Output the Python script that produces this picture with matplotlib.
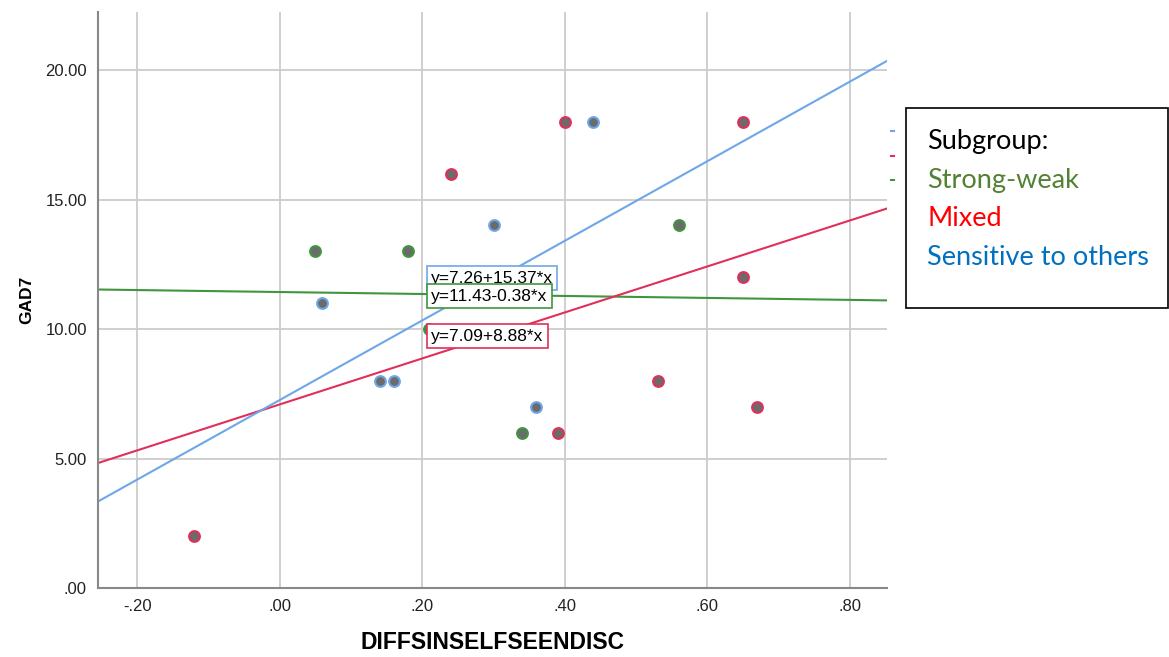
import numpy as np
import matplotlib.pyplot as plt
from matplotlib.lines import Line2D
from matplotlib.ticker import FuncFormatter

# Subgroup data (DIFFSINSELFSEENDISC, GAD7)
strong_x = [0.05, 0.18, 0.56, 0.34, 0.21]
strong_y = [13, 13, 14, 6, 10]
mixed_x = [-0.12, 0.24, 0.40, 0.65, 0.65, 0.53, 0.67, 0.39]
mixed_y = [2, 16, 18, 18, 12, 8, 7, 6]
sens_x = [0.06, 0.14, 0.16, 0.30, 0.36, 0.44]
sens_y = [11, 8, 8, 14, 7, 18]

# fit lines (intercept, slope) as printed on the chart
fit_sens = (7.26, 15.37)
fit_strong = (11.43, -0.38)
fit_mixed = (7.09, 8.88)

x_ticks = [-0.2, 0.0, 0.2, 0.4, 0.6, 0.8]
y_ticks = [0, 5, 10, 15, 20]

c_blue = '#6ea6ea'
c_red = '#e0305a'
c_green = '#3f963f'
c_fill = '#6b6b6b'

plt.rcParams['font.family'] = ['Liberation Sans', 'DejaVu Sans']

fig = plt.figure(figsize=(11.69, 6.57), dpi=100)
ax = fig.add_axes([0.0838, 0.105, 0.675, 0.877])

xmin, xmax = -0.255, 0.852
ax.set_xlim(xmin, xmax)
ax.set_ylim(0, 22.25)

ax.set_xticks(x_ticks)
ax.set_yticks(y_ticks)
ax.xaxis.set_major_formatter(FuncFormatter(lambda v, p: ('%.2f' % v).replace('0.', '.') if v != 0 else '.00'))
ax.yaxis.set_major_formatter(FuncFormatter(lambda v, p: ('%.2f' % v) if v != 0 else '.00'))
ax.tick_params(length=0, labelsize=12, pad=8, colors='#222222')
ax.grid(True, color='#cccccc', linewidth=1.3)
ax.set_axisbelow(True)
for s in ['top', 'right']:
    ax.spines[s].set_visible(False)
for s in ['left', 'bottom']:
    ax.spines[s].set_color('#888888')
    ax.spines[s].set_linewidth(1.5)

xs = np.array([xmin, xmax])
for (b0, b1), col in [(fit_strong, c_green), (fit_mixed, c_red), (fit_sens, c_blue)]:
    ax.plot(xs, b0 + b1 * xs, color=col, linewidth=1.5, zorder=2)

for px, py, col in [(strong_x, strong_y, c_green), (mixed_x, mixed_y, c_red), (sens_x, sens_y, c_blue)]:
    ax.scatter(px, py, s=60, color=c_fill, edgecolors=col, linewidths=1.5, zorder=3)

# fit labels
lab_x = 0.212
for (b0, b1), col, ly in [(fit_sens, c_blue, 11.97), (fit_strong, c_green, 11.27), (fit_mixed, c_red, 9.73)]:
    sign = '+' if b1 >= 0 else '-'
    ax.text(lab_x, ly, 'y=%.2f%s%.2f*x' % (b0, sign, abs(b1)), fontsize=12.5, va='center', ha='left',
            bbox=dict(boxstyle='square,pad=0.25', facecolor='white', edgecolor=col, linewidth=1.2), zorder=4)

ax.set_xlabel('DIFFSINSELFSEENDISC', fontsize=16.5, fontweight='bold', labelpad=12)
ax.set_ylabel('GAD7', fontsize=12.5, fontweight='bold', labelpad=8)

# remnants of the clipped legend at the right edge
for yy, col in [(131, c_blue), (156, c_red), (180, c_green)]:
    fig.add_artist(Line2D([891 / 1169, 894 / 1169], [1 - yy / 657] * 2, color=col, linewidth=1.5))

# subgroup key box
fig.add_artist(plt.Rectangle((906 / 1169, 1 - 308 / 657), 262 / 1169, 200 / 657,
                             fill=False, edgecolor='black', linewidth=1.2))
key_lines = [('Subgroup:', 'black'), ('Strong-weak', '#548235'), ('Mixed', '#ff0000'),
             ('Sensitive to others', '#0070c0')]
for i, (t, col) in enumerate(key_lines):
    fig.text(927 / 1169, 1 - (142 + 38.5 * i) / 657, t, color=col, fontsize=19.5,
             family=['Lato', 'DejaVu Sans'], va='center', ha='left')

fig.savefig('out.png', dpi=100)
